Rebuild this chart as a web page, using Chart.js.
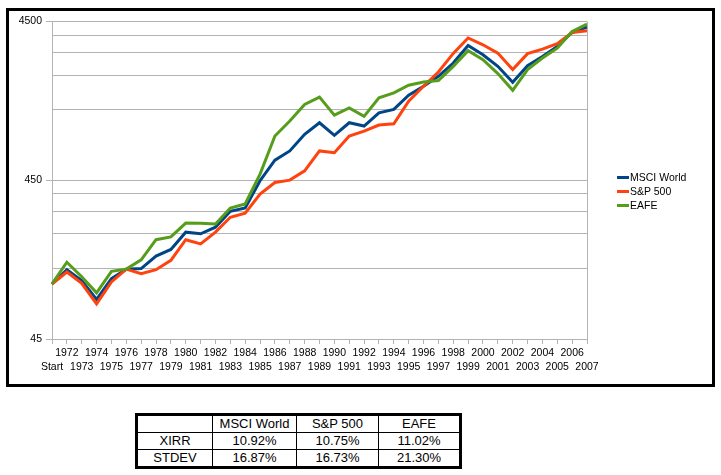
<!DOCTYPE html>
<html>
<head>
<meta charset="utf-8">
<script src="https://cdn.jsdelivr.net/npm/chart.js@4"></script>
<style>
  body { margin: 0; background: #fff; font-family: "Liberation Sans", Arial, sans-serif; }
  #box { position: absolute; left: 6px; top: 8px; width: 703px; height: 373px; border: 3px solid #000; }
  #grafico { position: absolute; left: 0; top: 0; }
  #legenda { position: absolute; left: 608px; top: 159px; font-size: 10.5px; }
  .item { height: 14px; line-height: 14px; white-space: nowrap; }
  .item span { display: inline-block; width: 12px; height: 3px; vertical-align: middle; margin-right: 1px; position: relative; top: -1px; }
  #tabela { position: absolute; left: 135px; top: 413px; border-collapse: collapse; border: 3px solid #000; font-size: 13px; }
  #tabela td { border: 1px solid #000; height: 16px; padding: 0; text-align: center; line-height: 16px; }
</style>
</head>
<body>
<div id="box">
  <canvas id="grafico" width="703" height="373"></canvas>
  <div id="legenda"></div>
</div>
<table id="tabela"></table>
<script>
const anos = ['Start', '1972', '1973', '1974', '1975', '1976', '1977', '1978', '1979', '1980',
  '1981', '1982', '1983', '1984', '1985', '1986', '1987', '1988', '1989', '1990',
  '1991', '1992', '1993', '1994', '1995', '1996', '1997', '1998', '1999', '2000',
  '2001', '2002', '2003', '2004', '2005', '2006', '2007'];

const msciWorld = [100, 123, 105, 80, 108, 124, 125, 150, 165, 212, 207, 228, 287, 301, 447, 602, 689, 877, 1037, 864,
  1037, 989, 1198, 1258, 1546, 1761, 2034, 2466, 3183, 2781, 2350, 1866, 2374, 2714, 3137, 3839, 4157];
const sp500 = [100, 119, 101, 75, 103, 124, 116, 123, 141, 190, 179, 212, 263, 279, 369, 436, 451, 516, 689, 672,
  855, 919, 1003, 1021, 1418, 1761, 2165, 2835, 3546, 3214, 2848, 2241, 2824, 3018, 3262, 3839, 3934];
const eafe = [100, 137, 111, 88, 120, 124, 142, 190, 198, 242, 241, 239, 301, 319, 492, 855, 1062, 1352, 1503, 1158,
  1287, 1137, 1487, 1598, 1786, 1874, 1911, 2350, 2948, 2588, 2115, 1661, 2241, 2650, 3061, 3893, 4340];

const yTicks = [45, 126, 207, 288, 369, 450, 1260, 2070, 2880, 3690, 4500];
const yRotulos = [45, 450, 4500];

const colunas = ['MSCI World', 'S&P 500', 'EAFE'];
const xirr = ['10.92%', '10.75%', '11.02%'];
const stdev = ['16.87%', '16.73%', '21.30%'];

const cinza = '#b3b3b3';
const fonte = { family: '"Liberation Sans", Arial, sans-serif', size: 10.5, lineHeight: 1.25 };

const bordaDireita = {
  id: 'bordaDireita',
  afterDraw(c) {
    const a = c.chartArea, ctx = c.ctx;
    ctx.save();
    ctx.strokeStyle = cinza;
    ctx.lineWidth = 1;
    ctx.beginPath();
    ctx.moveTo(Math.round(a.right) + 0.5, a.top);
    ctx.lineTo(Math.round(a.right) + 0.5, a.bottom);
    ctx.stroke();
    ctx.restore();
  }
};

const series = [
  { label: 'MSCI World', data: msciWorld, borderColor: '#004586', order: 3 },
  { label: 'S&P 500', data: sp500, borderColor: '#ff420e', order: 2 },
  { label: 'EAFE', data: eafe, borderColor: '#579d1c', order: 1 }
];

const chart = new Chart(document.getElementById('grafico').getContext('2d'), {
  type: 'line',
  data: {
    labels: anos,
    datasets: series.map(s => ({ ...s, backgroundColor: s.borderColor, borderWidth: 3, pointRadius: 0, tension: 0, fill: false }))
  },
  options: {
    responsive: false,
    animation: false,
    devicePixelRatio: 1,
    layout: { padding: { top: 9, right: 125, left: 0, bottom: 0 } },
    plugins: { legend: { display: false }, tooltip: { enabled: false } },
    scales: {
      x: {
        offset: false,
        grid: { drawOnChartArea: false, drawTicks: true, tickLength: 5, color: cinza },
        border: { color: cinza },
        ticks: {
          color: '#000', font: fonte, padding: 3, autoSkip: false, maxRotation: 0, minRotation: 0,
          callback: function (v, i) {
            const l = this.getLabelForValue(v);
            return i % 2 ? [l, ''] : ['', l];
          }
        },
        afterFit: s => { s.height = 45; }
      },
      y: {
        type: 'logarithmic',
        min: 45,
        max: 4500,
        afterBuildTicks: s => { s.ticks = yTicks.map(v => ({ value: v })); },
        grid: {
          color: cinza, tickLength: 6,
          tickColor: ctx => (ctx.tick && yRotulos.includes(ctx.tick.value)) ? cinza : 'rgba(0,0,0,0)'
        },
        border: { color: cinza },
        ticks: {
          color: '#000', font: fonte, padding: 4, autoSkip: false,
          callback: v => yRotulos.includes(v) ? String(v) : ''
        },
        afterFit: s => { s.width = 43; }
      }
    }
  },
  plugins: [bordaDireita]
});

// legenda
const leg = document.getElementById('legenda');
series.forEach(s => {
  const d = document.createElement('div');
  d.className = 'item';
  d.innerHTML = '<span style="background:' + s.borderColor + '"></span>';
  d.appendChild(document.createTextNode(s.label));
  leg.appendChild(d);
});

// tabela
const larguras = [74, 83, 81, 80];
const tab = document.getElementById('tabela');
const linhas = [[''].concat(colunas), ['XIRR'].concat(xirr), ['STDEV'].concat(stdev)];
linhas.forEach(r => {
  const tr = document.createElement('tr');
  r.forEach((t, j) => {
    const td = document.createElement('td');
    td.style.width = larguras[j] + 'px';
    td.textContent = t;
    tr.appendChild(td);
  });
  tab.appendChild(tr);
});
</script>
</body>
</html>
